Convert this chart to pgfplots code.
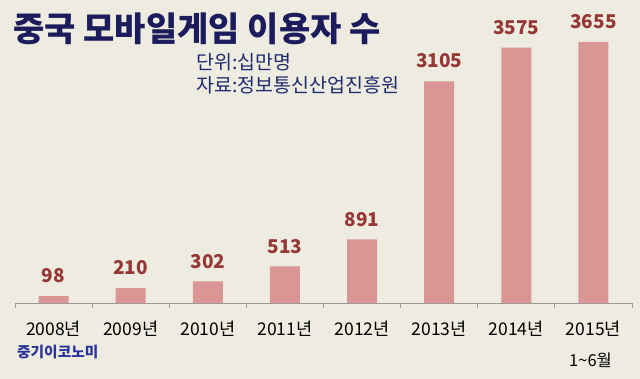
\documentclass[border=0pt]{standalone}
\usepackage{fontspec}
\setmainfont{Noto Sans CJK KR}
\usepackage{pgfplots}
\pgfplotsset{compat=1.18}
\definecolor{bg}{HTML}{EEECE1}
\definecolor{barc}{HTML}{D99694}
\definecolor{valc}{HTML}{953735}
\definecolor{titlec}{HTML}{1C1C5C}
\definecolor{subc}{HTML}{1F2B6E}
\definecolor{logoc}{HTML}{2A3399}
\begin{document}
\begin{tikzpicture}
\fill[bg] (0,0) rectangle (640bp,379bp);
\useasboundingbox (0,0) rectangle (640bp,379bp);
\begin{axis}[
  at={(15bp,76bp)}, anchor=south west,
  scale only axis, width=617bp, height=283bp,
  xmin=-0.5, xmax=7.5, ymin=0, ymax=3963,
  axis x line=bottom, axis y line=none,
  axis line style={draw=gray!80, line width=0.8pt, -},
  xtick={0,...,7},
  xticklabels={2008년,2009년,2010년,2011년,2012년,2013년,2014년,2015년},
  major tick length=0pt,
  extra x ticks={-0.5,0.5,1.5,2.5,3.5,4.5,5.5,6.5,7.5},
  extra x tick labels={},
  extra x tick style={major tick length=5bp, tick style={draw=gray!80, line width=0.8pt}, tick align=outside},
  xticklabel style={font=\fontsize{17.5bp}{19bp}\selectfont, text=black, yshift=-15bp},
  ybar, bar width=30bp,
  clip=false,
  /pgf/number format/assume math mode=true,
  /pgf/number format/1000 sep={},
  nodes near coords,
  nodes near coords style={font=\fontsize{19bp}{21bp}\selectfont\bfseries, text=valc, anchor=south, yshift=9.5bp},
]
\addplot[fill=barc, draw=none] coordinates {(0,98) (1,210) (2,302) (3,513) (4,891) (5,3105) (6,3575) (7,3655)};
\end{axis}
\node[anchor=west, text=titlec, font=\fontsize{34bp}{38bp}\selectfont\bfseries, inner sep=0] at (13bp,350bp) {중국 모바일게임 이용자 수};
\node[anchor=west, text=subc, font=\fontsize{19.5bp}{22bp}\selectfont, inner sep=0] at (196bp,317bp) {단위:십만명};
\node[anchor=west, text=subc, font=\fontsize{19.5bp}{22bp}\selectfont, inner sep=0] at (196bp,294bp) {자료:정보통신산업진흥원};
\node[anchor=west, text=logoc, font=\fontsize{14.7bp}{17bp}\selectfont\bfseries, inner sep=0] at (17bp,27bp) {중기이코노미};
\node[anchor=west, text=black, font=\fontsize{16.5bp}{18bp}\selectfont, inner sep=0] at (569bp,19bp) {1\char"007E 6월};
\end{tikzpicture}
\end{document}
